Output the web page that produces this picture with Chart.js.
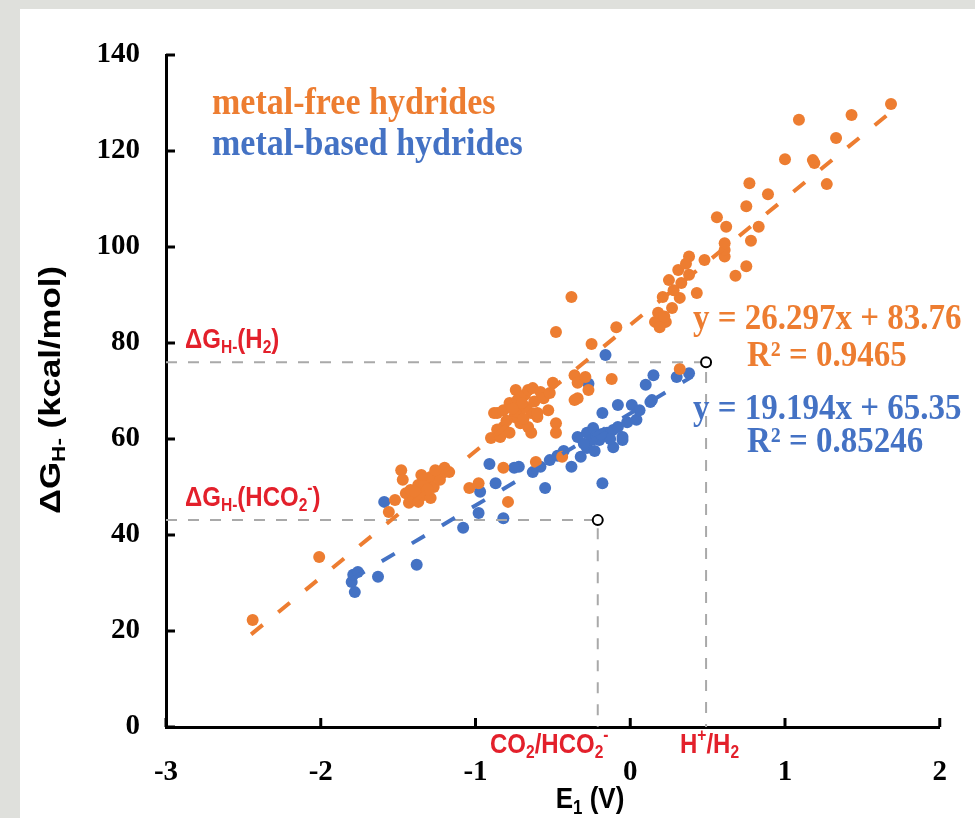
<!DOCTYPE html>
<html>
<head>
<meta charset="utf-8">
<script src="https://cdn.jsdelivr.net/npm/chart.js@4.4.0/dist/chart.umd.min.js"></script>
<style>
  html, body { margin: 0; padding: 0; background: #dfe0dc; }
  #painel { position: absolute; left: 20px; top: 9px; width: 955px; height: 809px; background: #fff; }
  #grafico { position: absolute; left: 0; top: 0; }
</style>
</head>
<body>
<div id="painel"></div>
<canvas id="grafico" width="975" height="818"></canvas>
<script>
// valores (E1 em V, deltaG em kcal/mol)
const metalFreeE = [-2.44, -2.01, -1.56, -1.52, -1.48, -1.45, -1.43, -1.42, -1.40, -1.37, -1.37, -1.34, -1.33, -1.29, -1.29, -1.27, -1.24, -1.23, -1.20, -1.17,
  -1.47, -1.39, -1.31, -1.26, -1.35,
  -1.04, -0.98, -0.82, -0.79, -0.61, -0.44,
  -0.90, -0.88, -0.86, -0.84, -0.82, -0.82, -0.78, -0.78, -0.75, -0.74, -0.73, -0.73, -0.71, -0.68, -0.68, -0.66, -0.66, -0.64, -0.64, -0.63, -0.60, -0.60,
  -0.80, -0.70, -0.76, -0.62, -0.69, -0.58, -0.86,
  -0.56, -0.53, -0.52, -0.50, -0.48, -0.48, -0.36, -0.34, -0.29, -0.27, -0.34, -0.36,
  -0.48, -0.38, -0.25, -0.12, -0.09,
  0.16, 0.23, 0.19, 0.18, 0.27, 0.21, 0.32, 0.43, 0.33, 0.25, 0.38, 0.31, 0.68, 0.75, 0.48, 0.38, 0.61, 0.61, 0.61, 0.78, 0.62, 0.83, 0.56, 0.75, 0.89,
  0.28, 0.22, 0.36,
  0.77, 1.27, 1.19, 1.18, 1.00, 1.33, 1.09, 1.43, 1.685, 0.32]
const metalFreeG = [22.3, 35.4, 44.8, 47.3, 53.5, 48.7, 46.7, 49.4, 47.7, 50.4, 46.9, 48.3, 51.0, 52.1, 47.7, 50.0, 52.9, 51.5, 54.0, 53.1,
  51.5, 49.0, 49.5, 53.5, 52.5,
  49.8, 50.8, 54.0, 46.9, 55.2, 56.3,
  60.2, 65.4, 65.4, 60.4, 66.0, 62.5, 67.5, 61.3, 64.6, 70.2, 68.1, 65.6, 63.3, 66.7, 69.2, 62.5, 70.2, 65.4, 61.3, 70.6, 64.6, 65.4,
  63.8, 67.5, 66.3, 67.8, 64.2, 69.8, 62.0,
  68.5, 66.0, 69.6, 71.7, 63.3, 61.3, 73.3, 71.7, 72.9, 70.2, 68.5, 68.1,
  82.3, 89.6, 79.8, 72.5, 83.3,
  84.4, 84.4, 83.3, 86.3, 87.3, 89.6, 89.4, 90.4, 92.5, 93.1, 94.2, 95.2, 94.0, 96.0, 97.3, 98.0, 98.0, 99.4, 100.8, 101.3, 104.2, 104.2, 106.2, 108.5, 111.0,
  91.0, 85.5, 96.5,
  113.3, 113.1, 117.5, 118.1, 118.3, 122.7, 126.5, 127.5, 129.8, 74.6]

const metalBasedE = [-1.80, -1.78, -1.79, -1.76, -1.63, -1.38, -1.59, -1.08, -0.98, -0.82, -0.97, -0.87, -0.91, -0.72, -0.75, -0.63, -0.58, -0.55, -0.52, -0.47,
  -0.38, -0.32, -0.18, -0.34, -0.28, -0.24, -0.20, -0.15, -0.11, -0.05, -0.11, -0.28, -0.25, -0.18, -0.08, 0.01, 0.04, 0.06, 0.13, 0.14,
  0.15, 0.10, 0.30, 0.38, -0.05, -0.16, -0.43, -0.22, -0.13, -0.27,
  -0.30, -0.19, -0.08, -0.23, -0.02]
const metalBasedG = [30.2, 28.1, 31.7, 32.3, 31.3, 33.8, 46.9, 41.5, 44.6, 43.5, 49.0, 50.8, 54.8, 54.2, 54.0, 53.1, 54.2, 49.8, 55.6, 56.5,
  54.2, 56.3, 50.8, 60.4, 61.3, 62.3, 59.8, 61.3, 61.9, 59.8, 58.3, 58.1, 59.8, 65.4, 67.1, 67.1, 64.0, 66.0, 67.7, 68.1,
  73.3, 71.3, 72.9, 73.7, 60.4, 77.5, 57.5, 60.8, 60.0, 71.5,
  59.0, 61.0, 62.5, 57.5, 63.5]

// retas de tendencia (extremos)
const trendFreeE = [-2.45, 1.68]
const trendFreeG = [19.3, 128.0]
const trendBasedE = [-1.80, 0.40]
const trendBasedG = [30.8, 73.0]

// linhas tracejadas de referencia H+/H2 e CO2/HCO2-
const refH2E = [-3, 0.49, 0.49]
const refH2G = [76.0, 76.0, 0]
const refHCO2E = [-3, -0.21, -0.21]
const refHCO2G = [43.1, 43.1, 0]
const markE = [0.49, -0.21]
const markG = [76.0, 43.1]

const xTicks = [-3, -2, -1, 0, 1, 2]
const yTicks = [0, 20, 40, 60, 80, 100, 120, 140]

const LARANJA = '#ED7D31'
const AZUL = '#4472C4'
const VERMELHO = '#e3202b'
const CINZA = '#a9a9a9'

const pontos = (xs, ys) => xs.map((x, i) => ({ x: x, y: ys[i] }))

// escreve texto com pedacos em subscrito/sobrescrito
// esticaY: a figura original parece um pouco esticada na vertical
const desenhaTexto = (ctx, partes, x, y, tam, familia, cor, alinha, esticaY) => {
  const fonte = (t) => 'bold ' + t + 'px "' + familia + '"'
  const ey = esticaY || 1
  let largura = 0
  partes.forEach(p => {
    ctx.font = fonte(p[1] ? tam * 0.65 : tam)
    largura += ctx.measureText(p[0]).width
  })
  ctx.save()
  ctx.translate(x, y)
  ctx.scale(1, ey)
  let cx = alinha === 'center' ? -largura / 2 : 0
  ctx.fillStyle = cor
  ctx.textBaseline = 'middle'
  ctx.textAlign = 'left'
  partes.forEach(p => {
    const t = p[1] ? tam * 0.65 : tam
    ctx.font = fonte(t)
    let dy = 0
    if (p[1] === 'sub') dy = tam * 0.28
    if (p[1] === 'sup') dy = -tam * 0.32
    ctx.fillText(p[0], cx, dy)
    cx += ctx.measureText(p[0]).width
  })
  ctx.restore()
}

const anotacoes = {
  id: 'anotacoes',
  afterDraw(chart) {
    const ctx = chart.ctx
    const area = chart.chartArea
    const sx = chart.scales.x
    const sy = chart.scales.y
    ctx.save()
    // marcas dos eixos voltadas para dentro
    ctx.strokeStyle = '#000'
    ctx.lineWidth = 3
    yTicks.forEach(v => {
      const py = sy.getPixelForValue(v)
      ctx.beginPath(); ctx.moveTo(area.left, py); ctx.lineTo(area.left + 9, py); ctx.stroke()
    })
    xTicks.forEach(v => {
      const px = sx.getPixelForValue(v)
      ctx.beginPath(); ctx.moveTo(px, area.bottom); ctx.lineTo(px, area.bottom - 9); ctx.stroke()
    })

    // legendas em texto
    desenhaTexto(ctx, [['metal-free hydrides']], 212, 104, 34, 'Liberation Serif', LARANJA, 'left', 1.1)
    desenhaTexto(ctx, [['metal-based hydrides']], 212, 145, 34, 'Liberation Serif', AZUL, 'left', 1.1)
    desenhaTexto(ctx, [['y = 26.297x + 83.76']], 693, 320, 33, 'Liberation Serif', LARANJA, 'left', 1.1)
    desenhaTexto(ctx, [['R² = 0.9465']], 747, 357, 33, 'Liberation Serif', LARANJA, 'left', 1.1)
    desenhaTexto(ctx, [['y = 19.194x + 65.35']], 693, 410, 33, 'Liberation Serif', AZUL, 'left', 1.1)
    desenhaTexto(ctx, [['R² = 0.85246']], 747, 443, 33, 'Liberation Serif', AZUL, 'left', 1.1)

    // rotulos em vermelho
    desenhaTexto(ctx, [['ΔG'], ['H-', 'sub'], ['(H'], ['2', 'sub'], [')']], 185, 340, 24, 'Liberation Sans', VERMELHO, 'left', 1.15)
    desenhaTexto(ctx, [['ΔG'], ['H-', 'sub'], ['(HCO'], ['2', 'sub'], ['-', 'sup'], [')']], 185, 498, 24, 'Liberation Sans', VERMELHO, 'left', 1.15)
    desenhaTexto(ctx, [['CO'], ['2', 'sub'], ['/HCO'], ['2', 'sub'], ['-', 'sup']], 490, 745, 24, 'Liberation Sans', VERMELHO, 'left', 1.15)
    desenhaTexto(ctx, [['H'], ['+', 'sup'], ['/H'], ['2', 'sub']], 680, 745, 24, 'Liberation Sans', VERMELHO, 'left', 1.15)

    // titulos dos eixos
    desenhaTexto(ctx, [['E'], ['1', 'sub'], [' (V)']], 590, 800, 26, 'Liberation Sans', '#000', 'center', 1.15)
    ctx.translate(52, 390)
    ctx.rotate(-Math.PI / 2)
    ctx.scale(1.2, 1)
    desenhaTexto(ctx, [['ΔG'], ['H-', 'sub'], [' (kcal/mol)']], 0, 0, 29, 'Liberation Sans', '#000', 'center')
    ctx.restore()
  }
}

const fonteTick = { family: 'Liberation Serif', weight: 'bold', size: 29 }

new Chart(document.getElementById('grafico'), {
  type: 'scatter',
  data: {
    datasets: [
      { label: 'marcas', data: pontos(markE, markG), order: 0, pointRadius: 5, pointBorderWidth: 2,
        pointBackgroundColor: '#fff', pointBorderColor: '#000' },
      { label: 'tendencia livre', data: pontos(trendFreeE, trendFreeG), order: 1, showLine: true, pointRadius: 0,
        borderColor: LARANJA, borderWidth: 4, borderDash: [15, 20] },
      { label: 'tendencia metal', data: pontos(trendBasedE, trendBasedG), order: 2, showLine: true, pointRadius: 0,
        borderColor: AZUL, borderWidth: 4, borderDash: [15, 20] },
      { label: 'H+/H2', data: pontos(refH2E, refH2G), order: 3, showLine: true, pointRadius: 0,
        borderColor: CINZA, borderWidth: 2, borderDash: [11, 11] },
      { label: 'CO2/HCO2-', data: pontos(refHCO2E, refHCO2G), order: 4, showLine: true, pointRadius: 0,
        borderColor: CINZA, borderWidth: 2, borderDash: [11, 11] },
      { label: 'metal-free hydrides', data: pontos(metalFreeE, metalFreeG), order: 5, pointRadius: 6,
        pointBorderWidth: 0, backgroundColor: LARANJA, borderColor: LARANJA },
      { label: 'metal-based hydrides', data: pontos(metalBasedE, metalBasedG), order: 6, pointRadius: 6,
        pointBorderWidth: 0, backgroundColor: AZUL, borderColor: AZUL }
    ]
  },
  options: {
    responsive: false,
    animation: false,
    layout: { padding: { left: 0, right: 33, top: 55, bottom: 0 } },
    plugins: { legend: { display: false }, tooltip: { enabled: false } },
    scales: {
      x: {
        type: 'linear', min: -3, max: 2,
        afterFit: (s) => { s.height = 91 },
        afterBuildTicks: (s) => { s.ticks = xTicks.map(v => ({ value: v })) },
        grid: { display: false, drawTicks: false },
        border: { display: true, color: '#000', width: 3 },
        ticks: { autoSkip: false, maxRotation: 0, padding: 28, color: '#000', font: fonteTick }
      },
      y: {
        type: 'linear', min: 0, max: 140,
        afterFit: (s) => { s.width = 166 },
        afterBuildTicks: (s) => { s.ticks = yTicks.map(v => ({ value: v })) },
        grid: { display: false, drawTicks: false },
        border: { display: true, color: '#000', width: 3 },
        ticks: { autoSkip: false, padding: 26, color: '#000', font: fonteTick }
      }
    }
  },
  plugins: [anotacoes]
})
</script>
</body>
</html>
